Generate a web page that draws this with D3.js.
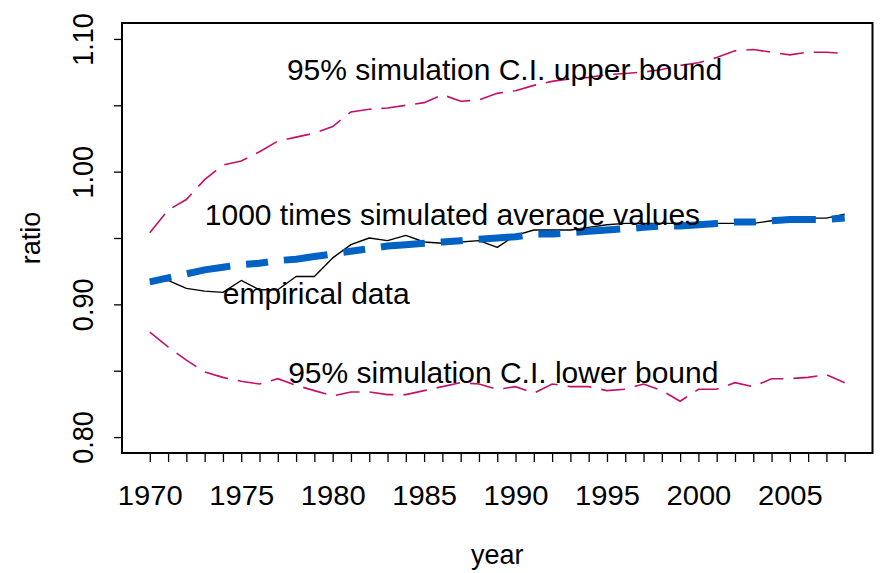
<!DOCTYPE html>
<html>
<head>
<meta charset="utf-8">
<script src="https://cdn.jsdelivr.net/npm/d3@7"></script>
<style>
  html, body { margin: 0; padding: 0; background: #fff; }
  svg { display: block; }
  text { font-family: "Liberation Sans", Arial, sans-serif; fill: #000; }
</style>
</head>
<body>
<svg id="chart" width="883" height="573"></svg>
<script>
// Years 1970–2008
const years = d3.range(1970, 2009);

// 95% simulation confidence interval, upper bound
const upperBound = [
  0.954, 0.971, 0.979, 0.994, 1.005, 1.008, 1.015, 1.023, 1.026, 1.029,
  1.034, 1.045, 1.047, 1.048, 1.050, 1.052, 1.058, 1.053, 1.054, 1.059,
  1.061, 1.065, 1.068, 1.070, 1.071, 1.073, 1.074, 1.075, 1.077, 1.080,
  1.082, 1.086, 1.091, 1.092, 1.090, 1.088, 1.090, 1.090, 1.089
];

// 95% simulation confidence interval, lower bound
const lowerBound = [
  0.879, 0.868, 0.858, 0.849, 0.845, 0.842, 0.840, 0.844, 0.839, 0.835,
  0.831, 0.834, 0.834, 0.832, 0.832, 0.835, 0.838, 0.841, 0.840, 0.836,
  0.838, 0.833, 0.840, 0.838, 0.838, 0.835, 0.836, 0.840, 0.835, 0.827,
  0.836, 0.836, 0.841, 0.838, 0.844, 0.844, 0.845, 0.847, 0.841
];

// Mean of 1000 simulation runs
const simulatedAverage = [
  0.917, 0.920, 0.923, 0.926, 0.928, 0.930, 0.931, 0.933, 0.934, 0.936,
  0.938, 0.940, 0.942, 0.944, 0.945, 0.946, 0.947, 0.948, 0.949, 0.950,
  0.951, 0.953, 0.953, 0.954, 0.955, 0.956, 0.957, 0.958, 0.959, 0.959,
  0.960, 0.961, 0.962, 0.962, 0.963, 0.964, 0.964, 0.964, 0.965
];

// Observed ratio
const empirical = [
  0.916, 0.918, 0.912, 0.910, 0.909, 0.918, 0.911, 0.911, 0.921, 0.921,
  0.935, 0.945, 0.950, 0.948, 0.952, 0.947, 0.946, 0.947, 0.948, 0.943,
  0.952, 0.956, 0.956, 0.956, 0.958, 0.960, 0.961, 0.961, 0.961, 0.961,
  0.961, 0.961, 0.961, 0.961, 0.963, 0.965, 0.965, 0.965, 0.968
];

const xTickLabels = [1970, 1975, 1980, 1985, 1990, 1995, 2000, 2005];
const yTicks = [0.80, 0.85, 0.90, 0.95, 1.00, 1.05, 1.10];
const yTickLabels = [0.80, 0.90, 1.00, 1.10];

// In-plot annotations: centre year and baseline value
const annotations = [
  { text: "95% simulation C.I. upper bound", year: 1989.4, value: 1.0691 },
  { text: "1000 times simulated average values", year: 1986.55, value: 0.9598 },
  { text: "empirical data", year: 1979.1, value: 0.9003 },
  { text: "95% simulation C.I. lower bound", year: 1989.33, value: 0.8407 }
];

const svg = d3.select("#chart");

const x = d3.scaleLinear().domain([1968.48, 2009.52]).range([122, 872.5]);
const y = d3.scaleLinear().domain([0.788, 1.112]).range([453, 23]);

const line = vals => d3.line()
  .x((d, i) => x(years[i]))
  .y(d => y(d))(vals);

// Series
svg.append("path").attr("d", line(upperBound))
  .attr("fill", "none").attr("stroke", "#C4106A").attr("stroke-width", 1.6)
  .attr("stroke-dasharray", "24,10");
svg.append("path").attr("d", line(lowerBound))
  .attr("fill", "none").attr("stroke", "#C4106A").attr("stroke-width", 1.6)
  .attr("stroke-dasharray", "24,10");
svg.append("path").attr("d", line(empirical))
  .attr("fill", "none").attr("stroke", "#000").attr("stroke-width", 1.4)
  .attr("stroke-linejoin", "round");
svg.append("path").attr("d", line(simulatedAverage))
  .attr("fill", "none").attr("stroke", "#0062C4").attr("stroke-width", 7)
  .attr("stroke-dasharray", "22,16,44,16");

// Annotation text
svg.selectAll("text.note").data(annotations).join("text")
  .attr("class", "note")
  .attr("x", d => x(d.year)).attr("y", d => y(d.value))
  .attr("text-anchor", "middle")
  .style("font-size", "30px")
  .text(d => d.text);

// Plot frame
svg.append("rect")
  .attr("x", x.range()[0]).attr("y", y.range()[1])
  .attr("width", x.range()[1] - x.range()[0])
  .attr("height", y.range()[0] - y.range()[1])
  .attr("fill", "none").attr("stroke", "#000").attr("stroke-width", 2);

// Bottom axis: yearly ticks, labels every five years
const xAxis = d3.axisBottom(x)
  .tickValues(years)
  .tickSize(9)
  .tickPadding(24)
  .tickFormat(d => xTickLabels.includes(d) ? String(d) : "");
const gx = svg.append("g")
  .attr("transform", `translate(0,${y.range()[0]})`)
  .call(xAxis);
gx.select(".domain").remove();
gx.selectAll(".tick line").attr("stroke", "#000").attr("stroke-width", 1.3);
gx.selectAll(".tick text")
  .style("font-size", "27px")
  .attr("font-family", null)
  .attr("transform", "scale(1.08,1)");

// Left axis: ticks every 0.05, labels every 0.10, rotated
const yAxis = d3.axisLeft(y)
  .tickValues(yTicks)
  .tickSize(8)
  .tickFormat(d => yTickLabels.some(v => Math.abs(v - d) < 1e-9) ? d3.format(".2f")(d) : "");
const gy = svg.append("g")
  .attr("transform", `translate(${x.range()[0]},0)`)
  .call(yAxis);
gy.select(".domain").remove();
gy.selectAll(".tick line").attr("stroke", "#000").attr("stroke-width", 1.3);
gy.selectAll(".tick text")
  .style("font-size", "27px")
  .attr("x", null)
  .attr("text-anchor", "middle")
  .attr("transform", "translate(-39,0) scale(1.08,1) rotate(-90)")
  .attr("y", 0)
  .attr("dy", "0.355em")
  .attr("font-family", null);

// Axis titles
svg.append("text")
  .attr("transform", `translate(${(x.range()[0] + x.range()[1]) / 2},564)`)
  .attr("text-anchor", "middle")
  .style("font-size", "27px")
  .text("year");
svg.append("text")
  .attr("transform", `translate(30,${(y.range()[0] + y.range()[1]) / 2}) rotate(-90)`)
  .attr("text-anchor", "middle")
  .attr("dy", "0.355em")
  .style("font-size", "27px")
  .text("ratio");
</script>
</body>
</html>
